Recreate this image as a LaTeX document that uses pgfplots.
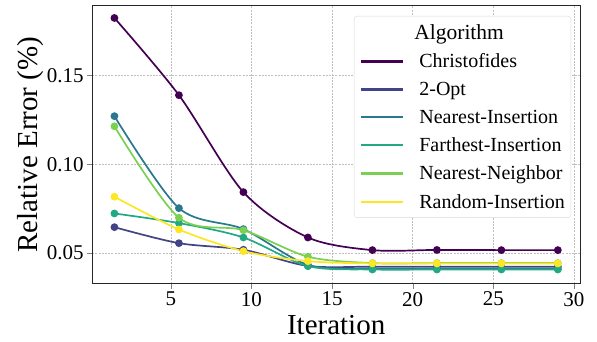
\documentclass[border=0pt]{standalone}
\usepackage{pgfplots}
\pgfplotsset{compat=1.18}
\usepackage{fontspec}
\setmainfont{Liberation Serif}
\definecolor{v1}{HTML}{440154}
\definecolor{v2}{HTML}{414487}
\definecolor{v3}{HTML}{2A788E}
\definecolor{v4}{HTML}{22A884}
\definecolor{v5}{HTML}{7AD151}
\definecolor{v6}{HTML}{FDE725}
\begin{document}
\begin{tikzpicture}
\begin{axis}[
  name=ax,
  scale only axis,
  width=488pt, height=278pt,
  xmin=0.125, xmax=30.375,
  ymin=0.0329, ymax=0.1891,
  xtick={5,10,15,20,25,30},
  ytick={0.05,0.10,0.15},
  yticklabel style={/pgf/number format/.cd,fixed,fixed zerofill,precision=2},
  /pgf/number format/assume math mode=true,
  tick label style={font=\fontsize{21}{24}\selectfont},
  tick align=outside,
  major tick length=5pt,
  xtick pos=bottom, ytick pos=left,
  grid=major,
  major grid style={dash pattern=on 2pt off 1.2pt, gray!50, line width=0.5pt},
  axis line style={line width=0.9pt, black!85},
  xlabel={Iteration},
  ylabel={Relative Error (\%)},
  label style={font=\fontsize{29}{32}\selectfont},
  xlabel style={at={(axis description cs:0.5,-0.1835)}, anchor=base},
  ylabel style={at={(axis description cs:-0.1127,0.5)}, anchor=base, rotate=0},
  every axis plot/.append style={line width=1.7pt, smooth, mark=*, mark size=3pt},
  legend cell align=left,
  legend style={
    at={(rel axis cs:0.9816,0.963)}, anchor=north east,
    draw=gray!30, rounded corners=3pt, fill=white,
    font=\fontsize{20}{23}\selectfont,
    row sep=9pt, column sep=15pt, inner xsep=6pt, inner ysep=6pt,
    nodes={inner xsep=0pt},
  },
  legend image code/.code={\draw[#1,mark=none,line width=2.3pt] (0pt,0pt) -- (42pt,0pt);},
]
\addlegendimage{empty legend}
\addlegendentry{\hspace*{-5pt}\fontsize{21.5}{26}\selectfont Algorithm}
\addplot[color=v1] coordinates {(1.5,0.1822) (5.5,0.1388) (9.5,0.0843) (13.5,0.0588) (17.5,0.0517) (21.5,0.0518) (25.5,0.0517) (29,0.0517)};
\addlegendentry{Christofides}
\addplot[color=v2] coordinates {(1.5,0.0646) (5.5,0.0556) (9.5,0.0519) (13.5,0.0428) (17.5,0.0424) (21.5,0.0424) (25.5,0.0424) (29,0.0424)};
\addlegendentry{2-Opt}
\addplot[color=v3] coordinates {(1.5,0.1270) (5.5,0.0753) (9.5,0.0635) (13.5,0.0434) (17.5,0.0412) (21.5,0.0412) (25.5,0.0412) (29,0.0412)};
\addlegendentry{Nearest-Insertion}
\addplot[color=v4] coordinates {(1.5,0.0723) (5.5,0.0669) (9.5,0.0588) (13.5,0.0427) (17.5,0.0408) (21.5,0.0408) (25.5,0.0408) (29,0.0408)};
\addlegendentry{Farthest-Insertion}
\addplot[color=v5] coordinates {(1.5,0.1213) (5.5,0.0699) (9.5,0.0629) (13.5,0.0480) (17.5,0.0444) (21.5,0.0444) (25.5,0.0444) (29,0.0444)};
\addlegendentry{Nearest-Neighbor}
\addplot[color=v6] coordinates {(1.5,0.0817) (5.5,0.0633) (9.5,0.0511) (13.5,0.0455) (17.5,0.0442) (21.5,0.0442) (25.5,0.0442) (29,0.0442)};
\addlegendentry{Random-Insertion}
\end{axis}
\pgfresetboundingbox
\path ([shift={(-92.3pt,-58.3pt)}]ax.south west) rectangle ([shift={(17pt,5.7pt)}]ax.north east);
\end{tikzpicture}
\end{document}
